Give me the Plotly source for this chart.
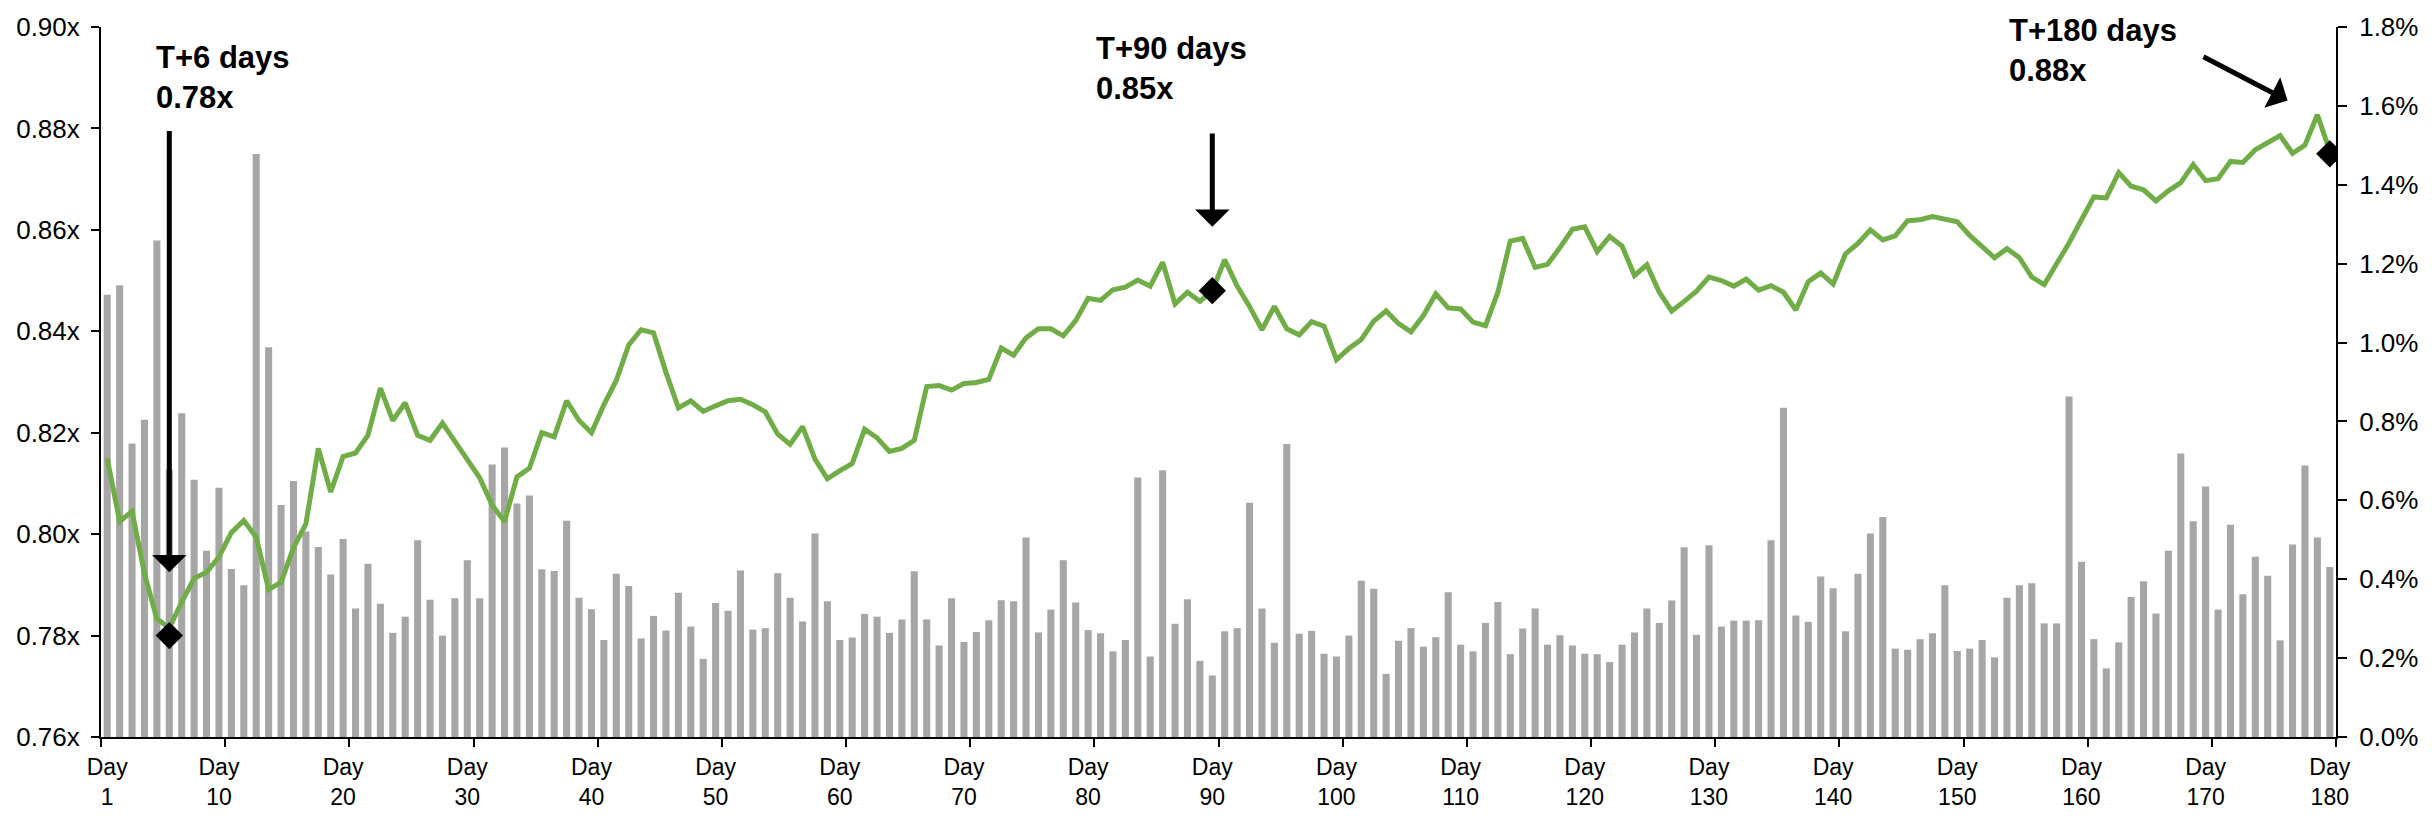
import plotly.graph_objects as go

# ---------------- data ----------------
days = list(range(1, 181))

# P/B-style multiple (left axis, x)
multiple = [
    0.8149, 0.8025, 0.8045, 0.7922, 0.7833, 0.7815, 0.7866, 0.7913, 0.7925, 0.7955,
    0.8003, 0.8027, 0.7994, 0.7891, 0.7905, 0.7973, 0.8020, 0.8169, 0.8083, 0.8153,
    0.8160, 0.8195, 0.8288, 0.8224, 0.8259, 0.8195, 0.8185, 0.8219, 0.8183, 0.8149,
    0.8111, 0.8057, 0.8025, 0.8113, 0.8130, 0.8200, 0.8192, 0.8263, 0.8224, 0.8200,
    0.8255, 0.8303, 0.8373, 0.8403, 0.8397, 0.8319, 0.8249, 0.8263, 0.8242, 0.8253,
    0.8263, 0.8266, 0.8255, 0.8241, 0.8197, 0.8177, 0.8212, 0.8148, 0.8109, 0.8125,
    0.8139, 0.8207, 0.8190, 0.8163, 0.8169, 0.8185, 0.8291, 0.8293, 0.8284, 0.8297,
    0.8299, 0.8305, 0.8367, 0.8353, 0.8387, 0.8405, 0.8405, 0.8391, 0.8421, 0.8465,
    0.8461, 0.8482, 0.8487, 0.8501, 0.8489, 0.8536, 0.8454, 0.8477, 0.8459, 0.8480,
    0.8541, 0.8489, 0.8449, 0.8403, 0.8449, 0.8405, 0.8393, 0.8419, 0.8410, 0.8344,
    0.8366, 0.8384, 0.8420, 0.8440, 0.8415, 0.8399, 0.8431, 0.8474, 0.8446, 0.8444,
    0.8418, 0.8411, 0.8477, 0.8578, 0.8583, 0.8526, 0.8532, 0.8565, 0.8601, 0.8606,
    0.8557, 0.8587, 0.8568, 0.8510, 0.8531, 0.8477, 0.8440, 0.8459, 0.8479, 0.8507,
    0.8500, 0.8489, 0.8503, 0.8481, 0.8490, 0.8477, 0.8442, 0.8498, 0.8515, 0.8493,
    0.8553, 0.8573, 0.8600, 0.8580, 0.8588, 0.8618, 0.8620, 0.8626, 0.8621, 0.8616,
    0.8589, 0.8568, 0.8545, 0.8563, 0.8545, 0.8507, 0.8492, 0.8533, 0.8574, 0.8620,
    0.8665, 0.8663, 0.8713, 0.8686, 0.8679, 0.8657, 0.8677, 0.8693, 0.8729, 0.8697,
    0.8701, 0.8735, 0.8733, 0.8758, 0.8773, 0.8786, 0.8751, 0.8767, 0.8827, 0.8755,
]

# daily bars (right axis, %)
volume_pct = [
    1.121, 1.145, 0.744, 0.804, 1.259, 0.678, 0.821, 0.652, 0.472, 0.632,
    0.426, 0.385, 1.478, 0.988, 0.588, 0.649, 0.521, 0.482, 0.412, 0.502,
    0.326, 0.439, 0.338, 0.264, 0.305, 0.499, 0.348, 0.257, 0.352, 0.448,
    0.352, 0.691, 0.734, 0.592, 0.612, 0.425, 0.421, 0.548, 0.353, 0.324,
    0.246, 0.414, 0.383, 0.250, 0.307, 0.270, 0.366, 0.280, 0.198, 0.340,
    0.320, 0.422, 0.272, 0.276, 0.415, 0.353, 0.293, 0.516, 0.344, 0.246,
    0.252, 0.312, 0.305, 0.264, 0.298, 0.420, 0.298, 0.232, 0.352, 0.241,
    0.266, 0.296, 0.347, 0.344, 0.506, 0.265, 0.323, 0.448, 0.341, 0.271,
    0.263, 0.217, 0.246, 0.658, 0.204, 0.676, 0.287, 0.349, 0.193, 0.156,
    0.268, 0.276, 0.594, 0.326, 0.239, 0.743, 0.262, 0.269, 0.211, 0.204,
    0.257, 0.396, 0.376, 0.160, 0.244, 0.276, 0.229, 0.253, 0.367, 0.234,
    0.217, 0.289, 0.342, 0.210, 0.275, 0.326, 0.234, 0.258, 0.232, 0.211,
    0.210, 0.190, 0.234, 0.265, 0.326, 0.289, 0.346, 0.481, 0.259, 0.486,
    0.280, 0.295, 0.295, 0.296, 0.499, 0.835, 0.308, 0.292, 0.407, 0.377,
    0.268, 0.414, 0.516, 0.558, 0.224, 0.221, 0.248, 0.263, 0.385, 0.218,
    0.224, 0.246, 0.202, 0.353, 0.385, 0.390, 0.288, 0.288, 0.863, 0.444,
    0.248, 0.174, 0.240, 0.355, 0.395, 0.313, 0.472, 0.719, 0.547, 0.635,
    0.323, 0.538, 0.362, 0.457, 0.409, 0.245, 0.488, 0.688, 0.506, 0.431,
]

# highlighted points
marker_days = [6, 90, 180]
marker_vals = [0.780, 0.848, 0.875]
marker_labels = ["T+6 days<br>0.78x", "T+90 days<br>0.85x", "T+180 days<br>0.88x"]

# axis ticks / labels
x_label_days = [1, 10, 20, 30, 40, 50, 60, 70, 80, 90, 100, 110, 120, 130, 140, 150, 160, 170, 180]
x_label_text = ["Day<br>1", "Day<br>10", "Day<br>20", "Day<br>30", "Day<br>40", "Day<br>50",
                "Day<br>60", "Day<br>70", "Day<br>80", "Day<br>90", "Day<br>100", "Day<br>110",
                "Day<br>120", "Day<br>130", "Day<br>140", "Day<br>150", "Day<br>160", "Day<br>170",
                "Day<br>180"]
x_boundary_ticks = [0.5, 10.5, 20.5, 30.5, 40.5, 50.5, 60.5, 70.5, 80.5, 90.5, 100.5, 110.5,
                    120.5, 130.5, 140.5, 150.5, 160.5, 170.5, 180.5]
left_ticks = [0.76, 0.78, 0.80, 0.82, 0.84, 0.86, 0.88, 0.90]
left_tick_text = ["0.76x", "0.78x", "0.80x", "0.82x", "0.84x", "0.86x", "0.88x", "0.90x"]
right_ticks = [0.0, 0.2, 0.4, 0.6, 0.8, 1.0, 1.2, 1.4, 1.6, 1.8]
right_tick_text = ["0.0%", "0.2%", "0.4%", "0.6%", "0.8%", "1.0%", "1.2%", "1.4%", "1.6%", "1.8%"]

# ---------------- figure ----------------
FONT = "Liberation Sans, Arial, Helvetica, sans-serif"
GREEN = "#70AD47"
GRAY = "#A6A6A6"

fig = go.Figure()
fig.add_trace(go.Bar(
    x=days, y=volume_pct, yaxis="y", width=0.57,
    marker=dict(color=GRAY, line=dict(width=0)), showlegend=False,
))
fig.add_trace(go.Scatter(
    x=days, y=multiple, yaxis="y2", mode="lines",
    line=dict(color=GREEN, width=5), showlegend=False,
))
fig.add_trace(go.Scatter(
    x=marker_days, y=marker_vals, yaxis="y2", mode="markers",
    marker=dict(symbol="diamond", size=21, color="black"), showlegend=False,
))

# text labels and arrows
text_pos = [(4.77, 0.8901), (80.45, 0.8918), (154.0, 0.8954)]
arrow_tail = [(6, 0.8798), (90, 0.8793), (169.7, 0.8943)]
arrow_tip = [(6, 0.7925), (90, 0.8606), (176.6, 0.8855)]

annotations = []
for (tx, ty), lab in zip(text_pos, marker_labels):
    annotations.append(dict(
        x=tx, y=ty, xref="x", yref="y2", text="<b>" + lab + "</b>", showarrow=False,
        xanchor="left", yanchor="middle", align="left",
        font=dict(family=FONT, size=31, color="black"),
    ))
for (ax_, ay_), (hx, hy) in zip(arrow_tail, arrow_tip):
    annotations.append(dict(
        x=hx, y=hy, xref="x", yref="y2", ax=ax_, ay=ay_, axref="x", ayref="y2",
        text="", showarrow=True, arrowhead=1, arrowsize=1.15, arrowwidth=5,
        arrowcolor="black", standoff=0, startstandoff=0,
    ))

fig.update_layout(
    width=2433, height=822,
    margin=dict(l=101, r=97, t=20, b=72, pad=0),
    plot_bgcolor="white", paper_bgcolor="white",
    showlegend=False, bargap=0.4,
    font=dict(family=FONT, color="black"),
    annotations=annotations,
    xaxis=dict(
        range=[0.5, 180.5], tickmode="array", tickvals=x_label_days, ticktext=x_label_text,
        ticks="outside", ticklen=8, tickcolor="rgba(0,0,0,0)",
        showline=True, linecolor="black", linewidth=2,
        showgrid=False, zeroline=False,
        tickfont=dict(family=FONT, size=23, color="black"),
        minor=dict(tickmode="array", tickvals=x_boundary_ticks, ticks="outside",
                   ticklen=8, tickwidth=2, tickcolor="black", showgrid=False),
    ),
    yaxis=dict(
        range=[0, 1.8], side="right", tickmode="array", tickvals=right_ticks,
        ticktext=right_tick_text, ticks="outside", ticklen=9, tickwidth=2, tickcolor="black",
        showline=True, linecolor="black", linewidth=2, showgrid=False, zeroline=False,
        tickfont=dict(family=FONT, size=26, color="black"), ticklabelstandoff=7,
    ),
    yaxis2=dict(
        range=[0.76, 0.90], side="left", overlaying="y", tickmode="array",
        tickvals=left_ticks, ticktext=left_tick_text,
        ticks="outside", ticklen=8, tickwidth=2, tickcolor="black",
        showline=True, linecolor="black", linewidth=2, showgrid=False, zeroline=False,
        tickfont=dict(family=FONT, size=26, color="black"), ticklabelstandoff=6,
    ),
)

fig.write_html("out.html", config={"displayModeBar": False},
               post_script="document.body.style.margin='0';")
